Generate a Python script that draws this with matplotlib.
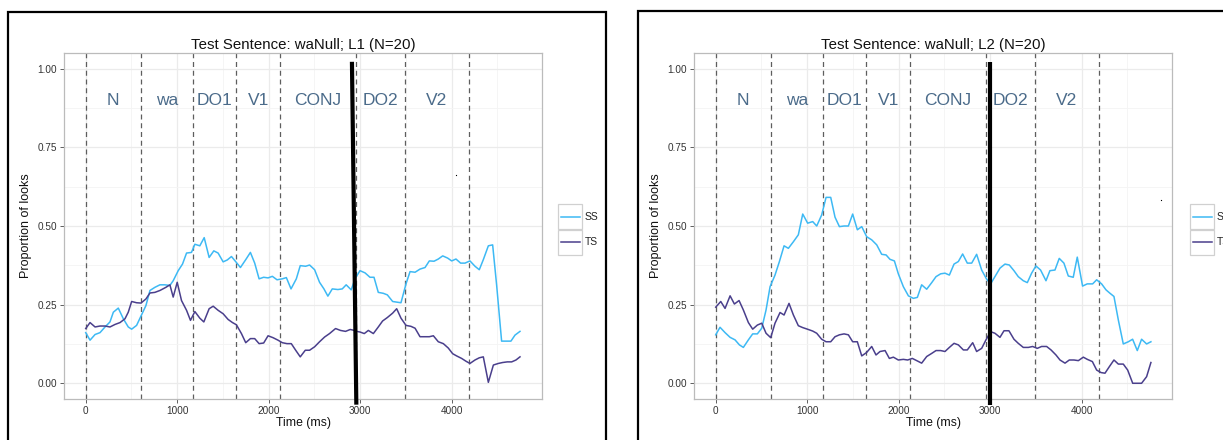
import numpy as np
import matplotlib
matplotlib.use("Agg")
import matplotlib.pyplot as plt
from matplotlib.patches import Rectangle
from matplotlib.lines import Line2D
from matplotlib.ticker import MultipleLocator

plt.rcParams["font.family"] = ["Liberation Sans", "DejaVu Sans"]

# ---- data ----
# L1 panel
l1_ss_t = [0, 47, 102, 156, 211, 265, 302, 356, 411, 465, 502, 556, 611, 658, 702, 756, 811, 865, 920,
           956, 1011, 1058, 1102, 1156, 1193, 1247, 1295, 1349, 1400, 1447, 1502, 1547, 1593, 1647, 1691,
           1749, 1800, 1847, 1895, 1945, 1993, 2040, 2091, 2149, 2193, 2244, 2302, 2345, 2404, 2447, 2502,
           2556, 2604, 2647, 2695, 2756, 2804, 2847, 2902, 2943, 2998, 3053, 3107, 3151, 3198, 3253, 3297,
           3355, 3399, 3446, 3501, 3545, 3600, 3654, 3709, 3756, 3807, 3854, 3902, 3956, 4000, 4047, 4098,
           4146, 4200, 4255, 4302, 4346, 4401, 4448, 4492, 4546, 4601, 4648, 4692, 4747]
l1_ss = [0.161, 0.137, 0.155, 0.161, 0.179, 0.195, 0.226, 0.239, 0.205, 0.179, 0.172, 0.184, 0.218,
         0.247, 0.295, 0.305, 0.313, 0.313, 0.311, 0.326, 0.358, 0.379, 0.414, 0.416, 0.442, 0.437, 0.463,
         0.400, 0.421, 0.414, 0.386, 0.392, 0.403, 0.384, 0.368, 0.393, 0.416, 0.382, 0.332, 0.337, 0.335,
         0.340, 0.329, 0.332, 0.336, 0.300, 0.332, 0.374, 0.372, 0.376, 0.361, 0.321, 0.300, 0.277, 0.300,
         0.298, 0.300, 0.313, 0.297, 0.332, 0.358, 0.351, 0.337, 0.337, 0.289, 0.286, 0.281, 0.260, 0.258,
         0.256, 0.316, 0.355, 0.353, 0.363, 0.368, 0.389, 0.388, 0.395, 0.405, 0.398, 0.389, 0.395, 0.382,
         0.382, 0.389, 0.372, 0.361, 0.393, 0.437, 0.440, 0.311, 0.134, 0.134, 0.134, 0.153, 0.165]
l1_ts_t = [0, 47, 102, 156, 211, 265, 320, 375, 429, 465, 502, 556, 604, 658, 702, 756, 811, 876, 920,
           956, 1000, 1047, 1102, 1145, 1193, 1247, 1291, 1349, 1393, 1447, 1502, 1556, 1604, 1647, 1702,
           1749, 1800, 1847, 1895, 1945, 1993, 2047, 2102, 2149, 2200, 2247, 2295, 2345, 2400, 2447, 2502,
           2556, 2611, 2665, 2731, 2785, 2840, 2891, 2938, 2961, 2998, 3045, 3089, 3144, 3198, 3245, 3297,
           3355, 3399, 3446, 3501, 3555, 3600, 3654, 3709, 3756, 3800, 3854, 3909, 3963, 4011, 4054, 4109,
           4157, 4200, 4255, 4302, 4346, 4401, 4456, 4510, 4557, 4608, 4656, 4703, 4747]
l1_ts = [0.174, 0.193, 0.179, 0.182, 0.182, 0.179, 0.187, 0.193, 0.205, 0.226, 0.260, 0.256, 0.255,
         0.268, 0.287, 0.289, 0.295, 0.305, 0.313, 0.274, 0.321, 0.263, 0.232, 0.200, 0.228, 0.207, 0.195,
         0.237, 0.245, 0.232, 0.221, 0.203, 0.193, 0.186, 0.158, 0.129, 0.142, 0.142, 0.126, 0.128, 0.151,
         0.145, 0.137, 0.129, 0.126, 0.126, 0.105, 0.084, 0.105, 0.105, 0.116, 0.132, 0.147, 0.158, 0.174,
         0.168, 0.165, 0.171, 0.168, 0.165, 0.163, 0.158, 0.168, 0.158, 0.179, 0.198, 0.209, 0.223, 0.237,
         0.207, 0.184, 0.181, 0.175, 0.148, 0.148, 0.148, 0.151, 0.132, 0.126, 0.112, 0.094, 0.087, 0.079,
         0.070, 0.063, 0.074, 0.081, 0.084, 0.003, 0.058, 0.063, 0.066, 0.068, 0.068, 0.074, 0.084]

# L2 panel
l2_ss_t = [0, 47, 102, 157, 211, 259, 302, 357, 404, 455, 503, 550, 594, 648, 696, 747, 794, 849, 903,
           951, 1005, 1060, 1104, 1158, 1206, 1257, 1304, 1352, 1403, 1450, 1497, 1548, 1596, 1650, 1705,
           1760, 1814, 1862, 1905, 1953, 1996, 2051, 2106, 2160, 2204, 2251, 2306, 2361, 2408, 2459, 2506,
           2554, 2605, 2652, 2699, 2750, 2798, 2852, 2907, 2961, 3005, 3052, 3107, 3162, 3209, 3260, 3307,
           3362, 3406, 3453, 3500, 3551, 3610, 3653, 3708, 3755, 3806, 3854, 3908, 3952, 4010, 4061, 4120,
           4164, 4218, 4266, 4310, 4353, 4401, 4455, 4510, 4557, 4608, 4655, 4710, 4757]
l2_ss = [0.154, 0.178, 0.161, 0.146, 0.138, 0.122, 0.114, 0.138, 0.157, 0.157, 0.175, 0.233, 0.307,
         0.344, 0.387, 0.437, 0.429, 0.450, 0.472, 0.538, 0.509, 0.514, 0.500, 0.535, 0.591, 0.591, 0.528,
         0.498, 0.500, 0.500, 0.538, 0.488, 0.498, 0.466, 0.456, 0.440, 0.410, 0.408, 0.394, 0.389, 0.348,
         0.307, 0.278, 0.270, 0.273, 0.313, 0.299, 0.320, 0.339, 0.348, 0.350, 0.344, 0.379, 0.387, 0.411,
         0.382, 0.382, 0.410, 0.360, 0.331, 0.316, 0.339, 0.366, 0.379, 0.376, 0.358, 0.339, 0.326, 0.320,
         0.350, 0.373, 0.360, 0.326, 0.358, 0.360, 0.397, 0.382, 0.341, 0.337, 0.401, 0.309, 0.316, 0.316,
         0.329, 0.316, 0.297, 0.286, 0.276, 0.201, 0.125, 0.132, 0.140, 0.104, 0.140, 0.125, 0.132]
l2_ts_t = [0, 55, 102, 157, 204, 255, 302, 357, 404, 455, 503, 550, 601, 648, 703, 747, 801, 849, 903,
           951, 1002, 1060, 1104, 1158, 1206, 1257, 1304, 1352, 1403, 1450, 1497, 1548, 1596, 1650, 1705,
           1752, 1796, 1851, 1898, 1942, 1996, 2051, 2098, 2149, 2197, 2251, 2306, 2361, 2408, 2459, 2506,
           2554, 2605, 2652, 2707, 2750, 2809, 2852, 2907, 2954, 3005, 3052, 3107, 3151, 3205, 3260, 3307,
           3362, 3417, 3464, 3515, 3562, 3617, 3665, 3719, 3763, 3818, 3865, 3916, 3964, 4018, 4062, 4117,
           4164, 4212, 4255, 4303, 4353, 4401, 4455, 4503, 4558, 4608, 4655, 4710, 4757]
l2_ts = [0.242, 0.260, 0.238, 0.278, 0.252, 0.263, 0.233, 0.193, 0.172, 0.185, 0.191, 0.159, 0.145,
         0.191, 0.225, 0.217, 0.254, 0.217, 0.183, 0.177, 0.172, 0.166, 0.159, 0.140, 0.132, 0.132, 0.148,
         0.154, 0.157, 0.154, 0.132, 0.132, 0.087, 0.098, 0.117, 0.090, 0.101, 0.104, 0.079, 0.083, 0.074,
         0.076, 0.074, 0.079, 0.072, 0.064, 0.085, 0.095, 0.104, 0.104, 0.101, 0.114, 0.127, 0.122, 0.106,
         0.106, 0.129, 0.101, 0.111, 0.138, 0.164, 0.159, 0.146, 0.167, 0.167, 0.140, 0.127, 0.114, 0.114,
         0.117, 0.111, 0.117, 0.117, 0.106, 0.090, 0.074, 0.064, 0.074, 0.074, 0.072, 0.083, 0.076, 0.069,
         0.042, 0.034, 0.032, 0.053, 0.074, 0.061, 0.061, 0.042, 0.0, 0.0, 0.0, 0.021, 0.066]

# region boundaries (ms) and labels
boundaries = [0, 600, 1170, 1645, 2125, 2950, 3485, 4195]
regions = ["N", "wa", "DO1", "V1", "CONJ", "DO2", "V2"]
titles = ["Test Sentence: waNull; L1 (N=20)", "Test Sentence: waNull; L2 (N=20)"]
# hand-drawn thick marker line: (x_top, x_bottom) in ms
marker_lines = [(2910, 2958), (3000, 3000)]
stray_dots = [(4052, 0.662), (4867, 0.583)]

ss_color = "#3DB9F4"
ts_color = "#4A3F8C"
label_color = "#4B6B8A"

W, H = 1223, 440
fig = plt.figure(figsize=(W / 100, H / 100), dpi=100)


def fx(x):
    return x / W


def fy(y):
    return 1 - y / H


# outer black frames (screenshot boxes)
fig.patches.append(Rectangle((fx(8), fy(445)), fx(598), 433 / H, transform=fig.transFigure,
                             fill=False, edgecolor="black", lw=1.6))
fig.patches.append(Rectangle((fx(638), fy(445)), fx(600), 434 / H, transform=fig.transFigure,
                             fill=False, edgecolor="black", lw=1.6))

panels = [
    (64, l1_ss_t, l1_ss, l1_ts_t, l1_ts, titles[0], marker_lines[0], stray_dots[0], 558),
    (694, l2_ss_t, l2_ss, l2_ts_t, l2_ts, titles[1], marker_lines[1], stray_dots[1], 1190),
]

for left, ss_t, ss, ts_t, ts, title, mline, dot, leg_x in panels:
    ax = fig.add_axes([fx(left), fy(399), fx(478), 346 / H])
    ax.set_xlim(-237.5, 4987.5)
    ax.set_ylim(-0.05, 1.05)

    ax.xaxis.set_major_locator(MultipleLocator(1000))
    ax.xaxis.set_minor_locator(MultipleLocator(500))
    ax.yaxis.set_major_locator(MultipleLocator(0.25))
    ax.yaxis.set_minor_locator(MultipleLocator(0.125))
    ax.yaxis.set_major_formatter(plt.FuncFormatter(lambda v, p: f"{v:.2f}"))
    ax.grid(which="major", color="#EBEBEB", lw=0.9)
    ax.grid(which="minor", color="#F4F4F4", lw=0.6)
    ax.set_axisbelow(True)
    ax.tick_params(which="minor", length=0)
    ax.tick_params(which="major", length=3, width=0.6, color="#444444",
                   labelsize=7.2, labelcolor="#333333", pad=2)
    for s in ax.spines.values():
        s.set_color("#BBBBBB")
        s.set_linewidth(0.9)

    for b in boundaries:
        ax.axvline(b, color="#5E5E5E", lw=0.9, ls=(0, (4, 3)), zorder=1)
    for i, lab in enumerate(regions):
        xm = (boundaries[i] + boundaries[i + 1]) / 2
        ax.text(xm, 0.90, lab, ha="center", va="center", fontsize=12.5, color=label_color)

    ax.plot(ss_t, ss, color=ss_color, lw=1.1, zorder=3)
    ax.plot(ts_t, ts, color=ts_color, lw=1.1, zorder=3)

    ax.plot([mline[0], mline[1]], [1.022, -0.068], color="black", lw=3.0,
            solid_capstyle="butt", clip_on=False, zorder=5)
    ax.plot([dot[0]], [dot[1]], marker="s", ms=0.8, mew=0, color="black", zorder=5)

    ax.set_title(title, fontsize=10.8, color="#111111", pad=3)
    ax.set_xlabel("Time (ms)", fontsize=8.8, color="#111111", labelpad=1)
    ax.set_ylabel("Proportion of looks", fontsize=9, color="#111111", labelpad=4)

    # legend keys (ggplot style boxed keys)
    for k, (name, col) in enumerate([("SS", ss_color), ("TS", ts_color)]):
        y0 = 204 + 25.5 * k
        fig.patches.append(Rectangle((fx(leg_x), fy(y0 + 25.5)), fx(24), 25.5 / H,
                                     transform=fig.transFigure, fill=False,
                                     edgecolor="#D0D0D0", lw=0.9))
        fig.lines.append(Line2D([fx(leg_x + 2.5), fx(leg_x + 21.5)], [fy(y0 + 12.7)] * 2,
                                transform=fig.transFigure, color=col, lw=1.1))
        fig.text(fx(leg_x + 27), fy(y0 + 12.7), name, fontsize=7.5, color="#222222",
                 ha="left", va="center")

fig.savefig("out.png", dpi=100)
